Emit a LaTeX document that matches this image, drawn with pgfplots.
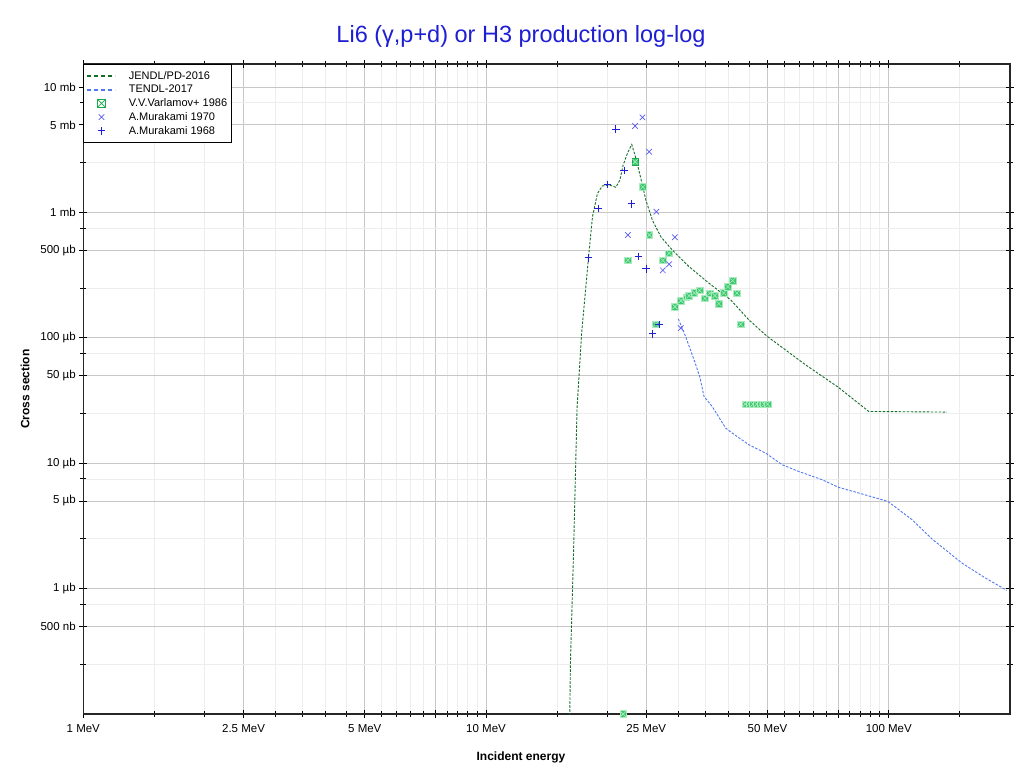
\documentclass[border=0pt]{standalone}
\usepackage{fontspec}
\setmainfont{Liberation Sans}
\usepackage{pgfplots}
\pgfplotsset{compat=1.18}
\definecolor{jendl}{RGB}{20,110,40}
\definecolor{tendl}{RGB}{80,120,240}
\definecolor{varfill}{RGB}{60,200,110}
\definecolor{vardraw}{RGB}{25,170,75}
\definecolor{varx}{RGB}{170,235,190}
\definecolor{murA}{RGB}{90,90,240}
\definecolor{murB}{RGB}{30,30,215}
\definecolor{titleblue}{RGB}{30,30,210}
\pgfdeclareplotmark{boxx}{%
  \pgfpathrectangle{\pgfqpoint{-\pgfplotmarksize}{-\pgfplotmarksize}}{\pgfqpoint{2\pgfplotmarksize}{2\pgfplotmarksize}}%
  \pgfusepathqfillstroke
  \pgfsetstrokecolor{varx}%
  \pgfpathmoveto{\pgfqpoint{-0.8\pgfplotmarksize}{-0.8\pgfplotmarksize}}%
  \pgfpathlineto{\pgfqpoint{0.8\pgfplotmarksize}{0.8\pgfplotmarksize}}%
  \pgfpathmoveto{\pgfqpoint{-0.8\pgfplotmarksize}{0.8\pgfplotmarksize}}%
  \pgfpathlineto{\pgfqpoint{0.8\pgfplotmarksize}{-0.8\pgfplotmarksize}}%
  \pgfusepathqstroke
}
\pgfdeclareplotmark{boxxleg}{%
  \pgfpathrectangle{\pgfqpoint{-\pgfplotmarksize}{-\pgfplotmarksize}}{\pgfqpoint{2\pgfplotmarksize}{2\pgfplotmarksize}}%
  \pgfusepathqfillstroke
  \pgfpathmoveto{\pgfqpoint{-\pgfplotmarksize}{-\pgfplotmarksize}}%
  \pgfpathlineto{\pgfqpoint{\pgfplotmarksize}{\pgfplotmarksize}}%
  \pgfpathmoveto{\pgfqpoint{-\pgfplotmarksize}{\pgfplotmarksize}}%
  \pgfpathlineto{\pgfqpoint{\pgfplotmarksize}{-\pgfplotmarksize}}%
  \pgfusepathqstroke
}
\pgfplotsset{
  lineleg/.style={legend image code/.code={\draw[##1, draw=#1, line width=1.6pt, dash pattern=on 4pt off 3pt] (0pt,0pt) -- (28pt,0pt);}},
  markleg/.style={legend image code/.code={\draw[mark repeat=2,mark phase=2,##1] plot coordinates {(0pt,0pt) (14pt,0pt) (28pt,0pt)};}},
  varleg/.style={legend image code/.code={\draw[mark repeat=2,mark phase=2,##1,mark=boxxleg,mark size=4.2pt,mark options={fill=white,draw=vardraw,line width=0.7pt}] plot coordinates {(0pt,0pt) (14pt,0pt) (28pt,0pt)};}},
}
\begin{document}
\begin{tikzpicture}
\useasboundingbox (-83.3pt,-59pt) rectangle (936.7pt,714pt);
\begin{axis}[
  at={(0pt,0pt)}, anchor=south west,
  scale only axis, width=926.7pt, height=650pt,
  xmode=log, ymode=log,
  xmin=1, xmax=200, ymin=1e-4, ymax=15.3,
  xtick={1,2.5,5,7.5,10,25,50,75,100},
  xticklabels={1 MeV,2.5 MeV,5 MeV,,10 MeV,25 MeV,50 MeV,,100 MeV},
  minor xtick={1.5,2,3,3.5,4,4.5,5.5,6,6.5,7,8,8.5,9,9.5,15,20,30,35,40,45,55,60,65,70,80,85,90,95,150},
  ytick={0.0005,0.001,0.005,0.01,0.05,0.1,0.5,1,5,10},
  yticklabels={500 nb,1 µb,5 µb,10 µb,50 µb,100 µb,500 µb,1 mb,5 mb,10 mb},
  minor ytick={0.00025,0.00075,0.0025,0.0075,0.025,0.075,0.25,0.75,2.5,7.5},
  grid=both,
  major grid style={draw=black!22, line width=0.8pt},
  minor grid style={draw=black!7, line width=0.8pt},
  tick align=center,
  major tick length=8pt, minor tick length=6pt,
  tick style={black, line width=0.9pt},
  axis line style={black!85, line width=1.2pt},
  ticklabel style={font=\fontsize{11.5}{13}\selectfont},
  xticklabel style={yshift=-3pt},
  every axis title shift=0pt,
  title={Li6 (γ,p+d) or H3 production log-log},
  title style={at={(axis description cs:0.4723,1.0431)}, anchor=center, font=\fontsize{23.5}{28}\selectfont, text=titleblue},
  xlabel={Incident energy},
  xlabel style={at={(axis description cs:0.4723,-0.0662)}, anchor=center, font=\bfseries\fontsize{12}{14}\selectfont},
  ylabel={Cross section},
  ylabel style={at={(axis description cs:-0.0629,0.5)}, anchor=center, font=\bfseries\fontsize{12}{14}\selectfont},
  legend style={at={(0,1)}, anchor=north west, draw=black, line width=0.8pt, fill=white,
    font=\fontsize{11}{13}\selectfont, inner xsep=3pt, inner ysep=5.5pt, row sep=1.3pt,
    nodes={inner sep=1.5pt}, /tikz/every odd column/.append style={column sep=11pt}},
  legend cell align=left,
]
\addplot[jendl, line width=0.9pt, dash pattern=on 2.5pt off 1.5pt, lineleg=jendl]
coordinates {
(16.1,5e-5) (16.2,2.5e-4) (16.49,1.89e-3) (16.83,0.028) (17.27,0.108) (17.96,0.434)
(18.38,0.926) (18.91,1.42) (19.45,1.63) (20.22,1.66) (21.0,1.59) (21.49,1.81)
(21.9,2.39) (22.44,2.96) (23.01,3.49) (23.62,2.62) (24.23,1.87) (24.93,1.26)
(25.88,0.871) (27.15,0.642) (29.01,0.502) (31.92,0.370) (35.78,0.273) (40.49,0.201)
(44.96,0.139) (49.73,0.1038) (62.13,0.061) (74.83,0.0405) (89.17,0.0259) (139.4,0.0256)
};
\addlegendentry{JENDL/PD-2016}
\addplot[tendl, line width=0.9pt, dash pattern=on 2.5pt off 1.5pt, lineleg=tendl]
coordinates {
(30.02,0.1417) (31.31,0.1024) (32.85,0.0668) (33.93,0.0492) (34.77,0.0341) (36.45,0.02835)
(39.36,0.01908) (40.87,0.0174) (44.96,0.01404) (49.44,0.01206) (54.36,0.00973) (59.79,0.0086)
(68.32,0.00739) (75.12,0.00642) (84.23,0.00579) (99.5,0.00496) (114.2,0.00355) (128.0,0.00249)
(151.9,0.0016) (173.6,0.001217) (196.3,0.00097)
};
\addlegendentry{TENDL-2017}
\addplot[only marks, mark=boxx, mark size=3.3pt, draw=vardraw, fill=varfill,
  mark options={line width=0.6pt}, varleg]
coordinates {
(23.45,2.54) (24.50,1.597) (25.44,0.662) (22.49,0.416) (27.48,0.4147) (28.48,0.473)
(26.39,0.1286) (29.46,0.1776) (30.49,0.1983) (31.43,0.2102) (31.92,0.2173) (32.89,0.2284)
(33.93,0.2391) (34.97,0.2064) (35.92,0.2271) (37.02,0.2173) (37.87,0.1877) (38.90,0.2284)
(39.87,0.2563) (40.96,0.2862) (41.98,0.2271) (42.87,0.1286)
(44,0.0296) (45,0.0296) (46,0.0296) (47,0.0296) (48,0.0296) (49,0.0296) (50,0.0296)
(21.9,1e-4)
};
\addlegendentry{V.V.Varlamov+ 1986}
\addplot[only marks, mark=x, mark size=3.9pt, murA, mark options={line width=0.7pt}, markleg]
coordinates {
(22.49,0.662) (23.45,4.89) (24.45,5.74) (25.40,3.05) (26.48,1.015) (27.47,0.3462)
(28.48,0.3867) (29.43,0.6346) (30.44,0.1195)
};
\addlegendentry{A.Murakami 1970}
\addplot[only marks, mark=+, mark size=3.8pt, murB, mark options={line width=0.9pt}, markleg]
coordinates {
(17.96,0.436) (18.98,1.080) (20.02,1.677) (21.00,4.63) (22.02,2.17) (22.96,1.175)
(23.89,0.4444) (24.97,0.3548) (25.88,0.1076) (26.89,0.1276)
};
\addlegendentry{A.Murakami 1968}
\end{axis}
\end{tikzpicture}
\end{document}
